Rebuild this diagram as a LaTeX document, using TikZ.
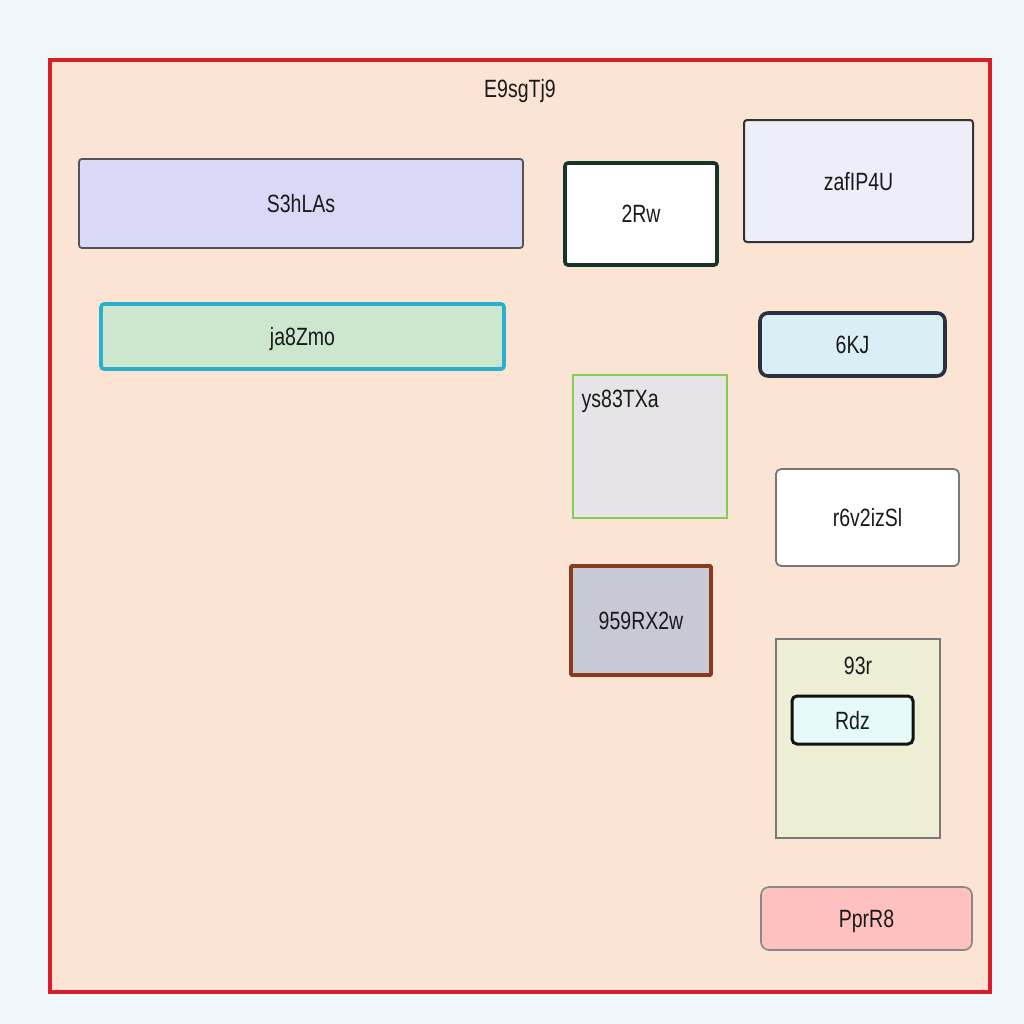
\documentclass[tikz,border=0pt]{standalone}
\usepackage{fontspec}
\setmainfont{Liberation Sans}[FakeStretch=0.78]
\usetikzlibrary{positioning}

\definecolor{pagebg}{HTML}{F1F6FA}
\definecolor{peach}{HTML}{FCE4D5}
\definecolor{redline}{HTML}{D71F2A}
\definecolor{txt}{HTML}{1A1A1A}
\definecolor{lavender}{HTML}{D9D9F7}
\definecolor{mint}{HTML}{CDE7CE}
\definecolor{cyanline}{HTML}{2AB0CC}
\definecolor{darkgreen}{HTML}{17362A}
\definecolor{paleblue}{HTML}{EEEEFA}
\definecolor{skyfill}{HTML}{DAEEF5}
\definecolor{navyline}{HTML}{2A3040}
\definecolor{lightgrey}{HTML}{E6E4E6}
\definecolor{limeline}{HTML}{88CC55}
\definecolor{slate}{HTML}{C9C8D5}
\definecolor{rust}{HTML}{8B3A1E}
\definecolor{cream}{HTML}{EEEED4}
\definecolor{icefill}{HTML}{E6FAFA}
\definecolor{pink}{HTML}{FFC0C0}

\begin{document}
\begin{tikzpicture}[x=0.5pt, y=-0.5pt, font=\fontsize{12.5}{15}\selectfont, text=txt]
	\tikzstyle{block} = [rectangle, draw, text centered, inner sep=0pt, rounded corners=1.5pt, text depth=0pt]
	\tikzstyle{group} = [rectangle, draw, inner sep=0pt]

	    % Background
	    \fill [pagebg] (0,0) rectangle (1024,1024);
	    \useasboundingbox (0,0) rectangle (1024,1024);

	    % Outer group
	    \node [group, fill=peach, draw=redline, line width=1.6pt, minimum width=470pt, minimum height=466pt] (E) at (520,526) {};
	    \node [below=7pt of E.north] (Elabel) {E9sgTj9};

	    % Place nodes
	    \node [block, fill=lavender, draw=black!67, line width=0.9pt, minimum width=222pt, minimum height=44.5pt] (S) at (301,203.5) {S3hLAs};
	    \node [block, fill=mint, draw=cyanline, line width=1.8pt, minimum width=201.5pt, minimum height=32.5pt] (J) at (302.5,336.5) {ja8Zmo};
	    \node [block, fill=white, draw=darkgreen, line width=1.8pt, minimum width=76pt, minimum height=51pt] (R) at (641,214) {2Rw};
	    \node [block, fill=paleblue, draw=black!80, line width=1pt, minimum width=114.5pt, minimum height=61pt] (Z) at (858.5,181) {zafIP4U};
	    \node [block, fill=skyfill, draw=navyline, line width=1.8pt, rounded corners=4pt, minimum width=92.5pt, minimum height=31.5pt] (K) at (852.5,344.5) {6KJ};

	    \node [group, fill=lightgrey, draw=limeline, line width=0.7pt, minimum width=77pt, minimum height=71.5pt] (Y) at (650,446.5) {};
	    \node [anchor=north west, inner sep=0pt] (Ylabel) at ([xshift=4.5pt, yshift=-7.5pt]Y.north west) {ys83TXa};

	    \node [block, fill=white, draw=black!53, line width=0.9pt, rounded corners=2.5pt, minimum width=91.5pt, minimum height=48.5pt] (V) at (867.5,517.5) {r6v2izSl};
	    \node [block, fill=slate, draw=rust, line width=1.8pt, rounded corners=0.5pt, minimum width=70pt, minimum height=54.5pt] (N) at (641,620.5) {959RX2w};

	    % Inner group
	    \node [group, fill=cream, draw=black!53, line width=0.6pt, minimum width=82pt, minimum height=99.5pt] (G) at (858,738.5) {};
	    \node [below=6pt of G.north] (Glabel) {93r};
	    \node [block, fill=icefill, draw=black!93, line width=1.5pt, rounded corners=2.5pt, minimum width=60.5pt, minimum height=24pt] (D) at (852.5,720) {Rdz};

	    \node [block, fill=pink, draw=black!47, line width=0.8pt, rounded corners=4pt, minimum width=105.5pt, minimum height=31.5pt] (P) at (866.5,918.5) {PprR8};

	\end{tikzpicture}
\end{document}
